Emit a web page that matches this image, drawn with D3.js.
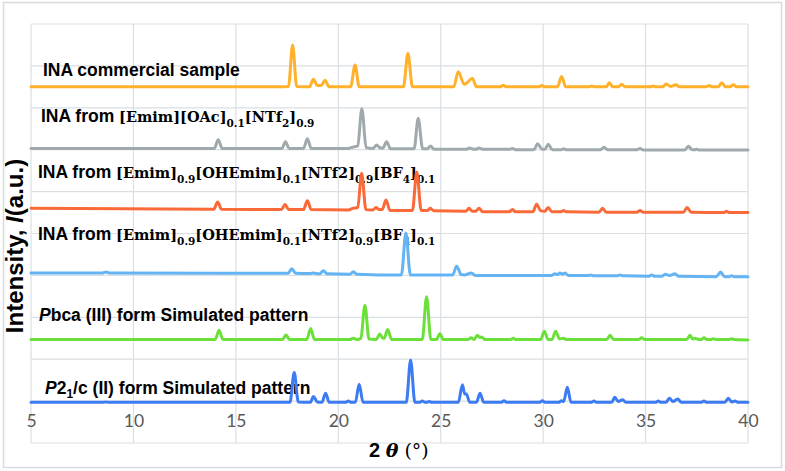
<!DOCTYPE html>
<html><head><meta charset="utf-8">
<script src="https://cdn.jsdelivr.net/npm/d3@7"></script>
<style>body{margin:0;background:#fff}svg{display:block}</style>
</head><body>
<script>
// ---- data ----
const xTicks = [5, 10, 15, 20, 25, 30, 35, 40];
const yGrid = [0,1,2,3,4,5,6,7,8,9,10];
const seriesNames = ["commercial", "OAc-NTf2", "OHEmim-1", "OHEmim-2", "Pbca", "P21c"];
const offsets = [8.5, 7.03, 5.6, 4.06, 2.47, 0.97];
const colors = ["#FFB12B", "#A0AAAE", "#FA6A38", "#64B4F4", "#6BE03A", "#3D7BF2"];

const sCommercial = [[5,0],[17.0,0],[17.57,0.01],[17.77,1.0],[17.97,0.01],[18.6,0],[18.78,0.18],[18.98,0.03],[19.17,0.03],[19.35,0.16],[19.55,0],[20.6,0],[20.82,0.52],[21.02,0],[23.18,0],[23.4,0.8],[23.62,0],[25.64,0],[25.85,0.36],[26.15,0.06],[26.55,0.2],[26.75,0],[27.9,0],[28.05,0.04],[28.2,0],[29.8,0],[29.93,0.03],[30.08,0],[30.7,0],[30.9,0.25],[31.1,0],[32.25,0],[32.37,0.02],[32.5,0],[33.08,0],[33.23,0.1],[33.4,0],[33.68,0],[33.83,0.06],[34.0,0],[35.25,0],[35.38,0.02],[35.5,0],[35.85,0],[36.0,0.07],[36.22,0.01],[36.49,0.05],[36.65,0],[37.95,0],[38.11,0.03],[38.25,0],[38.55,0],[38.72,0.1],[38.9,0],[39.12,0],[39.28,0.05],[39.45,0],[40,0]];
const sOAc = [[5,0],[13.95,0],[14.14,0.21],[14.33,0],[17.25,0],[17.42,0.16],[17.6,0],[18.3,0],[18.49,0.23],[18.68,0],[20.5,0],[20.7,0.03],[20.95,0.06],[21.15,0.95],[21.36,0.02],[21.7,0],[21.87,0.08],[22.05,0.01],[22.18,0.01],[22.36,0.16],[22.55,-0.01],[23.7,-0.01],[23.9,0.72],[24.12,-0.01],[24.35,-0.01],[24.5,0.06],[24.68,-0.02],[26.25,-0.02],[26.4,0.01],[26.6,-0.02],[26.72,-0.02],[26.87,0.01],[27.05,-0.02],[28.35,-0.02],[28.5,0.0],[28.65,-0.03],[29.55,-0.03],[29.73,0.11],[29.95,-0.02],[30.08,-0.02],[30.25,0.1],[30.45,-0.03],[30.85,-0.03],[31.0,-0.01],[31.15,-0.03],[32.8,-0.03],[32.97,0.03],[33.15,-0.03],[34.58,-0.03],[34.73,0.0],[34.9,-0.04],[36.9,-0.04],[37.09,0.05],[37.28,-0.03],[37.4,-0.03],[37.5,-0.02],[37.62,-0.04],[40,-0.04]];
const sOHE1 = [[5,0],[13.92,-0.02],[14.11,0.15],[14.3,-0.02],[17.22,-0.03],[17.4,0.09],[17.58,-0.03],[18.3,-0.03],[18.49,0.18],[18.68,-0.03],[20.5,-0.04],[20.7,0.0],[20.95,0.02],[21.14,0.84],[21.35,-0.03],[21.68,-0.04],[21.84,0.02],[22.0,-0.03],[22.14,-0.03],[22.33,0.2],[22.52,-0.05],[23.62,-0.05],[23.83,0.87],[24.05,-0.05],[24.35,-0.05],[24.5,0.0],[24.66,-0.06],[26.22,-0.07],[26.38,0.0],[26.55,-0.07],[26.7,-0.07],[26.87,0.0],[27.05,-0.08],[28.35,-0.08],[28.5,-0.03],[28.65,-0.08],[29.5,-0.08],[29.68,0.1],[29.88,-0.06],[30.08,-0.07],[30.25,0.02],[30.42,-0.08],[30.88,-0.08],[31.0,-0.05],[31.12,-0.08],[32.72,-0.09],[32.9,0.0],[33.08,-0.09],[34.58,-0.09],[34.73,-0.05],[34.88,-0.09],[36.85,-0.09],[37.03,0.02],[37.22,-0.09],[38.82,-0.1],[38.95,-0.07],[39.08,-0.1],[40,-0.1]];
const sOHE2 = [[5,0],[8.5,0],[8.66,0.02],[8.82,0],[17.55,-0.01],[17.73,0.1],[17.92,-0.01],[18.65,-0.015],[18.78,0.0],[18.9,-0.015],[19.1,-0.02],[19.27,0.05],[19.45,-0.02],[20.58,-0.03],[20.73,0.03],[20.9,-0.03],[23.08,-0.05],[23.3,0.95],[23.52,-0.05],[25.58,-0.05],[25.78,0.16],[26.0,-0.04],[26.15,-0.05],[26.5,0.0],[26.68,-0.06],[30.42,-0.06],[30.58,-0.02],[30.7,-0.04],[30.82,0.0],[30.95,-0.03],[31.07,0.0],[31.22,-0.06],[32.18,-0.06],[32.32,-0.05],[32.46,-0.07],[33.6,-0.07],[33.75,-0.05],[33.9,-0.07],[35.15,-0.08],[35.3,-0.05],[35.45,-0.08],[35.8,-0.08],[35.95,-0.03],[36.18,-0.06],[36.44,-0.02],[36.6,-0.08],[38.46,-0.09],[38.66,0.02],[38.85,-0.09],[39.08,-0.09],[39.2,-0.07],[39.32,-0.09],[40,-0.095]];
const sPbca = [[5,0],[13.99,0],[14.18,0.22],[14.37,0],[17.28,0],[17.45,0.11],[17.62,0],[18.46,0],[18.65,0.26],[18.84,0],[20.58,0],[20.73,0.03],[20.9,0],[21.1,0.02],[21.3,0.82],[21.5,0.01],[21.86,0],[22.02,0.13],[22.18,0.03],[22.24,0.03],[22.41,0.24],[22.6,0],[24.1,0],[24.31,1.02],[24.52,0],[24.79,0],[24.96,0.14],[25.13,0],[26.33,0],[26.48,0.04],[26.63,0],[26.79,0.1],[26.9,0.05],[27.0,0.06],[27.15,0],[28.4,0],[28.54,0.03],[28.68,0],[29.88,0],[30.06,0.2],[30.24,0],[30.43,0],[30.61,0.2],[30.8,0.01],[30.99,0.03],[31.14,0],[33.1,0],[33.27,0.1],[33.44,0],[34.66,0],[34.81,0.04],[34.96,0],[37.0,0],[37.17,0.1],[37.3,0.01],[37.41,0.03],[37.6,0],[37.72,0],[37.85,0.04],[38.0,0],[38.18,0],[38.31,0.02],[38.45,0],[39.07,0],[39.2,0.02],[39.33,0],[40,-0.01]];
const sP21c = [[5,0],[8.5,0],[8.66,0.01],[8.82,0],[17.64,0],[17.85,0.71],[18.05,0.01],[18.63,0],[18.79,0.14],[18.97,0.01],[19.2,0],[19.38,0.22],[19.56,0],[20.35,0],[20.49,0.03],[20.63,0],[20.83,0],[21.02,0.43],[21.21,0],[23.32,0],[23.53,1.01],[23.74,0],[23.96,0],[24.1,0.03],[24.25,0],[24.32,0],[24.44,0.02],[24.56,0],[25.86,0],[26.06,0.42],[26.17,0.2],[26.25,0.2],[26.42,0],[26.74,0],[26.92,0.22],[27.1,0],[27.95,0],[28.09,0.04],[28.23,0],[29.82,0],[29.96,0.04],[30.1,0],[30.76,0],[30.9,0.04],[31.0,0.02],[31.18,0.36],[31.36,0],[32.34,0],[32.48,0.03],[32.62,0],[33.34,0],[33.5,0.12],[33.66,0.02],[33.88,0.06],[34.04,0],[35.48,0],[35.62,0.03],[35.76,0],[36.0,0],[36.16,0.1],[36.34,0.02],[36.57,0.08],[36.74,0],[37.71,0],[37.85,0.03],[37.99,0],[38.87,0],[39.04,0.1],[39.2,0.01],[39.37,0.03],[39.52,0],[40,0]];
const seriesData = [sCommercial, sOAc, sOHE1, sOHE2, sPbca, sP21c];

// labels: segments [text, kind]  kind: t=sans bold, m=math serif, s=math subscript, i=italic sans, b=sans subscript
const labels = [
  [["INA commercial sample","t"]],
  [["INA from ","t"],["[Emim][OAc]","m"],["0.1","s"],["[NTf","m"],["2","s"],["]","m"],["0.9","s"]],
  [["INA from ","t"],["[Emim]","m"],["0.9","s"],["[OHEmim]","m"],["0.1","s"],["[NTf2]","m"],["0.9","s"],["[BF","m"],["4","s"],["]","m"],["0.1","s"]],
  [["INA from ","t"],["[Emim]","m"],["0.9","s"],["[OHEmim]","m"],["0.1","s"],["[NTf2]","m"],["0.9","s"],["[BF","m"],["4","s"],["]","m"],["0.1","s"]],
  [["P","i"],["bca (III) form Simulated pattern","t"]],
  [["P","i"],["2","t"],["1","b"],["/c (II) form Simulated pattern","t"]]
];
const yTitle = ["Intensity, ", "I", "(a.u.)"];
const xTitle = ["2 ", "θ", " (°)"];

// ---- layout ----
const W = 785, H = 471;
const M = {left: 31, right: 748, top: 24, bottom: 443};
const labelPos = [[43,76],[41,122],[38,178],[38,240],[39,321],[45,394]];

const svg = d3.select("body").append("svg").attr("width", W).attr("height", H);
svg.append("rect").attr("x", 3.5).attr("y", 2.5).attr("width", 778).attr("height", 465)
   .attr("fill", "#fff").attr("stroke", "#D9DCDE").attr("stroke-width", 1.5);

const x = d3.scaleLinear().domain([5, 40]).range([M.left, M.right]);
const y = d3.scaleLinear().domain([0, 10]).range([M.bottom, M.top]);

const grid = svg.append("g").attr("stroke", "#DADFE3").attr("stroke-width", 1.2);
grid.selectAll("line.v").data(xTicks).join("line").attr("class","v")
  .attr("x1", d => x(d)).attr("x2", d => x(d)).attr("y1", M.top).attr("y2", M.bottom);
grid.selectAll("line.h").data(yGrid).join("line").attr("class","h")
  .attr("x1", M.left).attr("x2", M.right).attr("y1", d => y(d)).attr("y2", d => y(d));

// x tick labels
const xAxis = d3.axisBottom(x).tickValues(xTicks).tickSize(0).tickPadding(0).tickFormat(d3.format("d"));
const gx = svg.append("g").attr("transform", `translate(0,${M.bottom - 28})`).call(xAxis);
gx.select(".domain").remove();
gx.selectAll("text").attr("font-family", "Lato, 'Open Sans', sans-serif").attr("font-size", 17.5)
  .attr("fill", "#595959").attr("dy", "0.71em");

// labels (drawn before lines so peaks pass over text)
const fontFor = {
  t: {ff: "'Liberation Sans', Arial, sans-serif", fs: 17.5, fw: "bold", fst: "normal", dy: 0},
  i: {ff: "'Liberation Sans', Arial, sans-serif", fs: 17.5, fw: "bold", fst: "italic", dy: 0},
  b: {ff: "'Liberation Sans', Arial, sans-serif", fs: 12, fw: "bold", fst: "normal", dy: 4},
  m: {ff: "'DejaVu Serif', serif", fs: 14.5, fw: "bold", fst: "normal", dy: 0},
  s: {ff: "'DejaVu Serif', serif", fs: 10.5, fw: "bold", fst: "normal", dy: 5}
};
labels.forEach((segs, i) => {
  const t = svg.append("text").attr("x", labelPos[i][0]).attr("y", labelPos[i][1]).attr("fill", "#000");
  let prev = 0;
  segs.forEach(([txt, k]) => {
    const f = fontFor[k];
    t.append("tspan").text(txt).attr("font-family", f.ff).attr("font-size", f.fs)
      .attr("font-weight", f.fw).attr("font-style", f.fst).attr("dy", f.dy - prev)
      .style("white-space", "pre");
    prev = f.dy;
  });
});

// series lines
const line = d3.line().x(d => x(d[0])).curve(d3.curveMonotoneX);
seriesData.forEach((pts, i) => {
  svg.append("path").datum(pts)
    .attr("d", line.y(d => y(d[1] + offsets[i])))
    .attr("fill", "none").attr("stroke", colors[i]).attr("stroke-width", 3)
    .attr("stroke-linejoin", "round").attr("stroke-linecap", "round")
    .attr("data-name", seriesNames[i]);
});

// y title
const yt = svg.append("text").attr("transform", "translate(23,246) rotate(-90)")
  .attr("text-anchor", "middle").attr("font-family", "'Liberation Sans', Arial, sans-serif")
  .attr("font-size", 24).attr("font-weight", "bold").attr("fill", "#000");
yt.append("tspan").text(yTitle[0]).style("white-space", "pre");
yt.append("tspan").text(yTitle[1]).attr("font-style", "italic");
yt.append("tspan").text(yTitle[2]);

// x title
const xt = svg.append("text").attr("x", 369).attr("y", 457).attr("fill", "#000");
xt.append("tspan").text(xTitle[0]).attr("font-family", "'Liberation Sans', Arial, sans-serif")
  .attr("font-size", 20).attr("font-weight", "bold").style("white-space", "pre");
xt.append("tspan").text(xTitle[1]).attr("font-family", "'DejaVu Serif', serif")
  .attr("font-size", 19).attr("font-weight", "bold").attr("font-style", "italic");
xt.append("tspan").text(xTitle[2]).attr("font-family", "'DejaVu Serif', serif")
  .attr("font-size", 19).style("white-space", "pre");
</script>
</body></html>
